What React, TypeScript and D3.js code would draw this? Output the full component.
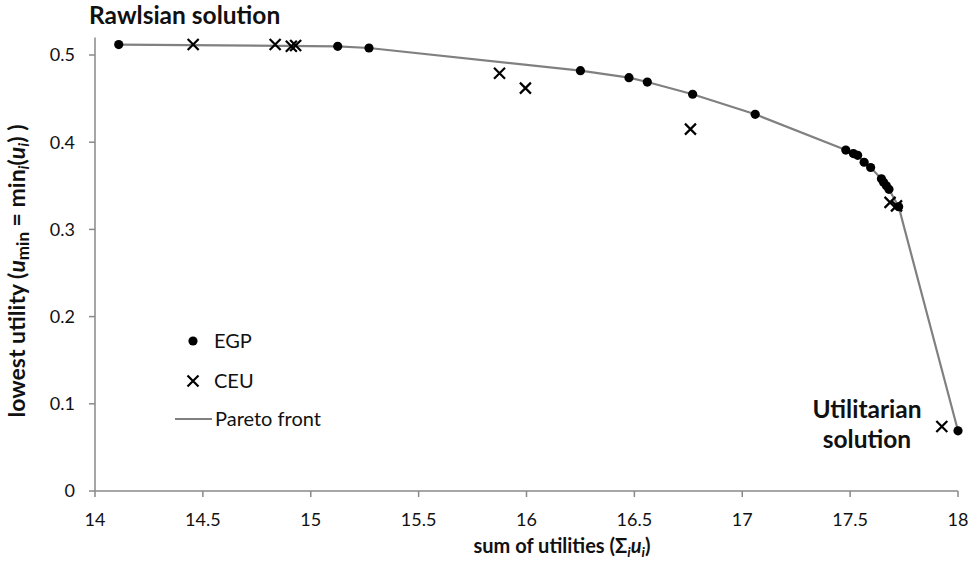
import React from "react";
import * as d3 from "d3";

// EGP solutions (sum of utilities, lowest utility)
const egpX = [14.11, 15.125, 15.27, 16.25, 16.475, 16.56, 16.77, 17.06, 17.48, 17.515, 17.535, 17.565, 17.595, 17.645, 17.655, 17.668, 17.68, 17.725, 18.0];
const egpY = [0.512, 0.51, 0.508, 0.482, 0.474, 0.469, 0.455, 0.432, 0.391, 0.387, 0.385, 0.377, 0.371, 0.358, 0.354, 0.35, 0.346, 0.326, 0.069];

// CEU solutions
const ceuX = [14.455, 14.835, 14.91, 14.93, 15.875, 15.995, 16.76, 17.685, 17.715, 17.925];
const ceuY = [0.512, 0.512, 0.51, 0.511, 0.479, 0.462, 0.415, 0.331, 0.327, 0.074];

// pareto front follows the EGP points
const paretoX = egpX;
const paretoY = egpY;

const xTicks = [14, 14.5, 15, 15.5, 16, 16.5, 17, 17.5, 18];
const yTicks = [0, 0.1, 0.2, 0.3, 0.4, 0.5];

const W = 975, H = 565;
const FONT = "Lato, 'Open Sans', sans-serif";
const AXIS = "#898989";

export default function App() {
  const x = d3.scaleLinear().domain([14, 18]).range([95, 958]);
  const y = d3.scaleLinear().domain([0, 0.52]).range([491, 491 - 0.52 * 872]);

  const line = d3.line<number>()
    .x((d) => x(paretoX[d]))
    .y((d) => y(paretoY[d]));
  const idx = d3.range(paretoX.length);

  const cross = (cx: number, cy: number, k: number, s = 5.5) => (
    <path key={k} d={`M${cx - s},${cy - s}L${cx + s},${cy + s}M${cx - s},${cy + s}L${cx + s},${cy - s}`}
      stroke="#000" strokeWidth={2.2} fill="none" />
  );

  return (
    <svg width={W} height={H} style={{ position: "absolute", left: 0, top: 0, background: "#fff" }}
      fontFamily={FONT}>
      {/* axes */}
      <line x1={x(14)} x2={x(18)} y1={y(0)} y2={y(0)} stroke={AXIS} strokeWidth={1.5} />
      <line x1={x(14)} x2={x(14)} y1={y(0)} y2={y(0.52)} stroke={AXIS} strokeWidth={1.5} />
      {xTicks.map((t) => (
        <g key={"xt" + t}>
          <line x1={x(t)} x2={x(t)} y1={y(0)} y2={y(0) + 6} stroke={AXIS} strokeWidth={1.5} />
          <text x={x(t)} y={526} textAnchor="middle" fontSize={18} fill="#111">{t}</text>
        </g>
      ))}
      {yTicks.map((t) => (
        <g key={"yt" + t}>
          <line x1={x(14) - 6} x2={x(14)} y1={y(t)} y2={y(t)} stroke={AXIS} strokeWidth={1.5} />
          <text x={75} y={y(t)} dy="0.36em" textAnchor="end" fontSize={18} fill="#111">{t}</text>
        </g>
      ))}

      {/* pareto front */}
      <path d={line(idx) || ""} fill="none" stroke="#808080" strokeWidth={2.2} />

      {/* points */}
      {egpX.map((v, i) => (
        <circle key={"e" + i} cx={x(v)} cy={y(egpY[i])} r={4.6} fill="#000" />
      ))}
      {ceuX.map((v, i) => cross(x(v), y(ceuY[i]), i))}

      {/* annotations */}
      <text x={89} y={24} fontSize={24.5} fontWeight="bold" fill="#111">Rawlsian solution</text>
      <text x={867} y={418} fontSize={24.5} fontWeight="bold" fill="#111" textAnchor="middle">Utilitarian</text>
      <text x={867} y={448} fontSize={24.5} fontWeight="bold" fill="#111" textAnchor="middle">solution</text>

      {/* legend */}
      <circle cx={193} cy={341} r={4.6} fill="#000" />
      <text x={214} y={341} dy="0.36em" fontSize={20} fill="#111">EGP</text>
      {cross(193, 381, 99)}
      <text x={214} y={381} dy="0.36em" fontSize={20} fill="#111">CEU</text>
      <line x1={175} x2={212} y1={419} y2={419} stroke="#808080" strokeWidth={2.2} />
      <text x={215} y={419} dy="0.36em" fontSize={20} fill="#111">Pareto front</text>

      {/* axis titles */}
      <text x={562} y={553} textAnchor="middle" fontSize={20} fontWeight="bold" fill="#111">
        sum of utilities (Σ
        <tspan fontStyle="italic" fontSize={14} dy={4}>i</tspan>
        <tspan fontStyle="italic" dy={-4}>u</tspan>
        <tspan fontStyle="italic" fontSize={14} dy={4}>i</tspan>
        <tspan dy={-4}>)</tspan>
      </text>
      <text transform="translate(25,271) rotate(-90)" textAnchor="middle" fontSize={23} fontWeight="bold" fill="#111">
        lowest utility (
        <tspan fontStyle="italic">u</tspan>
        <tspan fontSize={17} dy={4}>min</tspan>
        <tspan dy={-4}> = min</tspan>
        <tspan fontStyle="italic" fontSize={16} dy={4}>i</tspan>
        <tspan dy={-4}>(</tspan>
        <tspan fontStyle="italic">u</tspan>
        <tspan fontStyle="italic" fontSize={16} dy={4}>i</tspan>
        <tspan dy={-4}>) )</tspan>
      </text>
    </svg>
  );
}
